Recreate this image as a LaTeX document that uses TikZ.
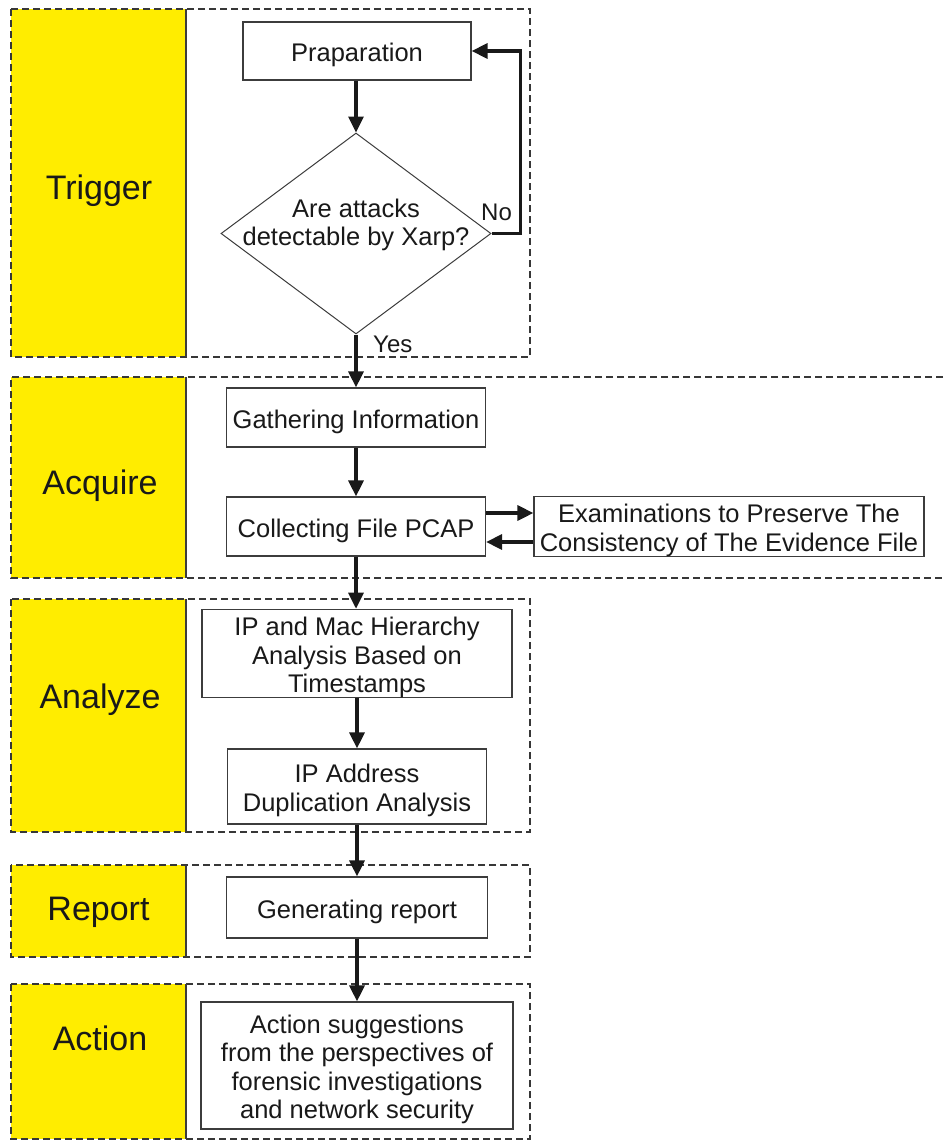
\documentclass[tikz,border=0pt]{standalone}
\usepackage{fontspec}
\setmainfont{Liberation Sans}
\usetikzlibrary{arrows.meta,shapes.geometric}
\definecolor{laneyellow}{RGB}{255,237,0}
\definecolor{dashgray}{RGB}{55,55,55}
\definecolor{boxgray}{RGB}{60,60,60}
\definecolor{ink}{RGB}{25,25,25}
% tall invisible strut on the first line: sets the text a little lower in its box
\newcommand\stepstrut{\rule{0pt}{26.5pt}}

\begin{document}
\begin{tikzpicture}[x=1pt,y=-1pt,
  lane/.style={draw=dashgray, line width=1.1pt, dash pattern=on 7pt off 4pt},
  laneedge/.style={draw=boxgray, line width=1.2pt},
  lanelabel/.style={anchor=base, font=\fontsize{34}{38}\selectfont, text=ink},
  stepbox/.style={draw=boxgray, line width=1.2pt, fill=white, align=center,
    inner sep=0pt, font=\fontsize{25.5}{28.3}\selectfont, text=ink},
  steptext/.style={align=center, inner sep=0pt, font=\fontsize{25.5}{28.3}\selectfont, text=ink},
  arr/.style={draw=ink, line width=3.2pt, -{Triangle[length=16pt,width=15pt]}},
  branch/.style={font=\fontsize{24}{28}\selectfont, text=ink, anchor=base west, inner sep=0pt},
]
\useasboundingbox (0,0) rectangle (943,1140);

% ---- swimlanes ----
% Trigger
\fill[laneyellow] (11,9) rectangle (186,357);
\draw[lane] (11,9) rectangle (530,357);
\draw[laneedge] (186,9) -- (186,357);
% Acquire (open to the right)
\fill[laneyellow] (11,377) rectangle (186,578);
\draw[lane] (943,377) -- (11,377) -- (11,578) -- (943,578);
\draw[laneedge] (186,377) -- (186,578);
% Analyze
\fill[laneyellow] (11,599) rectangle (186,832);
\draw[lane] (11,599) rectangle (530,832);
\draw[laneedge] (186,599) -- (186,832);
% Report
\fill[laneyellow] (11,865) rectangle (186,957);
\draw[lane] (11,865) rectangle (530,957);
\draw[laneedge] (186,865) -- (186,957);
% Action
\fill[laneyellow] (11,984) rectangle (186,1139);
\draw[lane] (11,984) rectangle (530,1139);
\draw[laneedge] (186,984) -- (186,1139);

% ---- lane titles ----
\node[lanelabel] (ltrig) at (99,199) {Trigger};
\node[lanelabel] (lacq)  at (100,494) {Acquire};
\node[lanelabel] (lana)  at (100,708) {Analyze};
\node[lanelabel] (lrep)  at (98.5,920) {Report};
\node[lanelabel] (lact)  at (100,1050) {Action};

% ---- steps ----
\node[stepbox, minimum width=228pt, minimum height=58pt] (prep) at (357,51) {\stepstrut Praparation};
\node[draw=boxgray, line width=1pt, diamond, minimum width=270pt, minimum height=201pt,
  inner sep=0pt] (dec) at (356,233.5) {};
\node[steptext] (dectext) at (356,225) {Are attacks\\detectable by Xarp?};

\node[stepbox, minimum width=259pt, minimum height=59pt] (gath) at (356,417.5) {\stepstrut Gathering Information};
\node[stepbox, minimum width=259pt, minimum height=59pt] (coll) at (356,526.5) {\stepstrut Collecting File PCAP};
\node[stepbox, minimum width=390pt, minimum height=59pt] (exam) at (729,526.5)
  {\stepstrut Examinations to Preserve The\\Consistency of The Evidence File};

\node[stepbox, minimum width=310pt, minimum height=87pt] (ipmac) at (357,653.5)
  {\stepstrut IP and Mac Hierarchy\\Analysis Based on\\Timestamps};
\node[stepbox, minimum width=259pt, minimum height=75pt] (ipdup) at (357,786.5)
  {\stepstrut IP Address\\Duplication Analysis};

\node[stepbox, minimum width=261pt, minimum height=61pt] (gen) at (357,907.5) {\stepstrut Generating report};

\node[stepbox, minimum width=312pt, minimum height=127pt] (act) at (357,1065.5)
  {\stepstrut Action suggestions\\from the perspectives of\\forensic investigations\\and network security};

% ---- connectors ----
\draw[arr] (prep.south -| dec.north) -- (dec.north);
\draw[arr] (dec.east) -- ++(29,0) |- (prep.east);
\draw[arr] (dec.south) -- (gath.north);
\draw[arr] (gath.south) -- (coll.north);
\draw[arr] ([yshift=13.5pt]coll.east) -- ([yshift=13.5pt]exam.west);
\draw[arr] ([yshift=-15.5pt]exam.west) -- ([yshift=-15.5pt]coll.east);
\draw[arr] (coll.south) -- (coll.south |- ipmac.north);
\draw[arr] (ipmac.south) -- (ipdup.north);
\draw[arr] (ipdup.south) -- (gen.north);
\draw[arr] (gen.south) -- (act.north);

\node[branch] (nolbl) at (481,220) {No};
\node[branch] (yeslbl) at (373,352) {Yes};
\end{tikzpicture}
\end{document}
